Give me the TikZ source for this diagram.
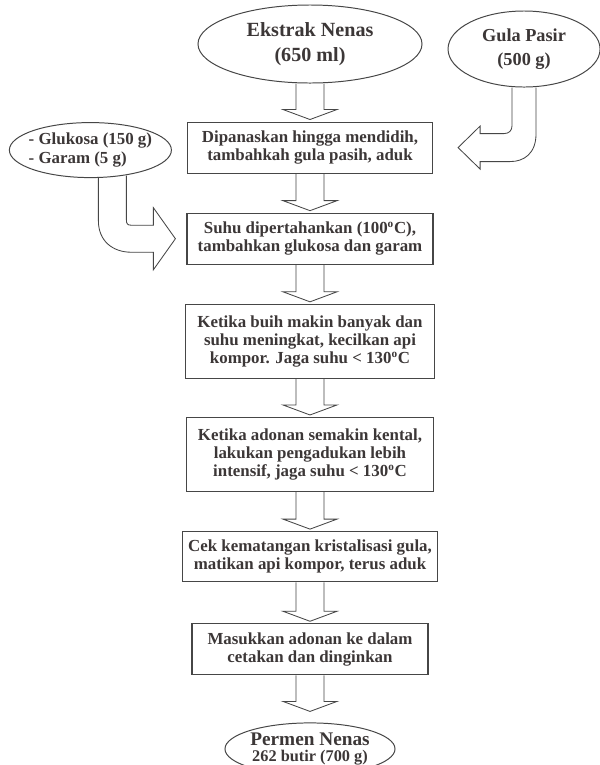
\documentclass[tikz,border=0pt]{standalone}
\usepackage{fontspec}
\setmainfont{Liberation Serif}
\usetikzlibrary{shapes.geometric,positioning,calc}

\definecolor{inkgray}{RGB}{60,55,55}
\definecolor{linegray}{RGB}{70,70,70}

\tikzset{
  procbox/.style={rectangle, draw=linegray, line width=0.8pt, fill=white, align=center, text=inkgray, font=\bfseries\fontsize{12}{12.8}\selectfont, minimum width=6.15cm, minimum height=1.275cm, inner sep=2pt},
  inbubble/.style={ellipse, draw=linegray, line width=0.7pt, fill=white, align=center, text=inkgray, inner sep=0pt},
  hollow/.style={draw=linegray, line width=0.6pt, line join=miter},
}

% hollow block arrow straight down, #1 = extra gap above target
\newcommand{\hollowdown}[3][0]{%
  \coordinate (s) at (#2.south);
  \coordinate (t) at (#2.south |- #3.north);
  \draw[hollow] ($(s)+(-14,0)$) -- ($(t)+(-14,12+#1)$) -- ($(t)+(-27,12+#1)$) -- ($(t)+(0,2+#1)$) -- ($(t)+(27,12+#1)$) -- ($(t)+(14,12+#1)$) -- ($(s)+(14,0)$);
}

\begin{document}
\begin{tikzpicture}[x=0.025cm, y=0.025cm]
    \fill[white] (0,0) rectangle (600,-765);
    \useasboundingbox (0,0) rectangle (600,-765);

    % Nodes
    \node (ekstrak) [inbubble, minimum width=5.6cm, minimum height=1.95cm, font=\bfseries\fontsize{14.3}{17.7}\selectfont] at (310,-44) {Ekstrak Nenas\\(650 ml)};
    \node (gula) [inbubble, right=0.625cm of ekstrak, yshift=-0.125cm, minimum width=3.8cm, minimum height=1.9cm, font=\bfseries\fontsize{13}{17}\selectfont] {Gula Pasir\\(500 g)};
    \node (box1) [procbox, below=0.95cm of ekstrak, minimum width=6.125cm] {Dipanaskan hingga mendidih,\\tambahkah gula pasih, aduk};
    \node (gluk) [inbubble, left=0.375cm of box1, yshift=-0.0625cm, align=left, inner xsep=-5pt, minimum width=4.05cm, minimum height=1.375cm, font=\bfseries\fontsize{12}{13}\selectfont] {- Glukosa (150 g)\\- Garam (5 g)};
    \node (box2) [procbox, below=0.975cm of box1] {Suhu dipertahankan (100\textsuperscript{o}C),\\tambahkan glukosa dan garam};
    \node (box3) [procbox, below=0.975cm of box2, minimum width=6.225cm, minimum height=1.85cm] {Ketika buih makin banyak dan\\suhu meningkat, kecilkan api\\kompor. Jaga suhu < 130\textsuperscript{o}C};
    \node (box4) [procbox, below=0.95cm of box3, minimum width=6.175cm, minimum height=1.85cm] {Ketika adonan semakin kental,\\lakukan pengadukan lebih\\intensif, jaga suhu < 130\textsuperscript{o}C};
    \node (box5) [procbox, below=0.975cm of box4, minimum width=6.375cm, minimum height=1.25cm] {Cek kematangan kristalisasi gula,\\matikan api kompor, terus aduk};
    \node (box6) [procbox, below=1.025cm of box5, minimum width=5.9cm] {Masukkan adonan ke dalam\\cetakan dan dinginkan};
    \node (permen) [inbubble, below=1.175cm of box6, inner ysep=-4pt, minimum width=4.25cm, minimum height=1.3cm, font=\bfseries\fontsize{13.7}{11.5}\selectfont] {Permen Nenas\\{\fontsize{11.6}{11.5}\selectfont 262 butir (700 g)}};

    % Arrows
    \hollowdown{ekstrak}{box1}
    \hollowdown{box1}{box2}
    \hollowdown{box2}{box3}
    \hollowdown{box3}{box4}
    \hollowdown{box4}{box5}
    \hollowdown{box5}{box6}
    \hollowdown[9]{box6}{permen}

    % curved arrow from Gula Pasir
    \coordinate (g0) at (gula.south);
    \coordinate (g1) at (gula.south |- box1.east);
    \coordinate (g2) at ($(box1.east)+(25,0)$);
    \draw[hollow] ($(g0)+(12,0)$) -- ($(g1)+(12,14)$) .. controls ($(g1)+(12,-6)$) and ($(g1)+(0,-14)$) .. ($(g1)+(-14,-14)$) -- ($(g2)+(22,-14)$) -- ($(g2)+(22,-21.5)$) -- (g2) -- ($(g2)+(22,21.5)$) -- ($(g2)+(22,14)$) -- ($(g1)+(-20,14)$) .. controls ($(g1)+(-15,14)$) and ($(g1)+(-12,17)$) .. ($(g1)+(-12,22)$) -- ($(g0)+(-12,0)$);

    % curved arrow from Glukosa
    \coordinate (k1) at ($(gluk.south)+(22,0)$);
    \coordinate (k2) at (k1 |- box2.west);
    \coordinate (k3) at ($(box2.west)+(-11,0)$);
    \draw[hollow] ($(k1)+(-14,0)$) -- ($(k2)+(-14,18)$) .. controls ($(k2)+(-14,-2)$) and ($(k2)+(0,-13.5)$) .. ($(k2)+(19,-13.5)$) -- ($(k3)+(-22,-13.5)$) -- ($(k3)+(-22,-31)$) -- (k3) -- ($(k3)+(-22,31)$) -- ($(k3)+(-22,13.5)$) -- ($(k2)+(19,13.5)$) .. controls ($(k2)+(15,13.5)$) and ($(k2)+(14,15)$) .. ($(k2)+(14,19)$) -- ($(k1)+(14,2.5)$);
\end{tikzpicture}
\end{document}
